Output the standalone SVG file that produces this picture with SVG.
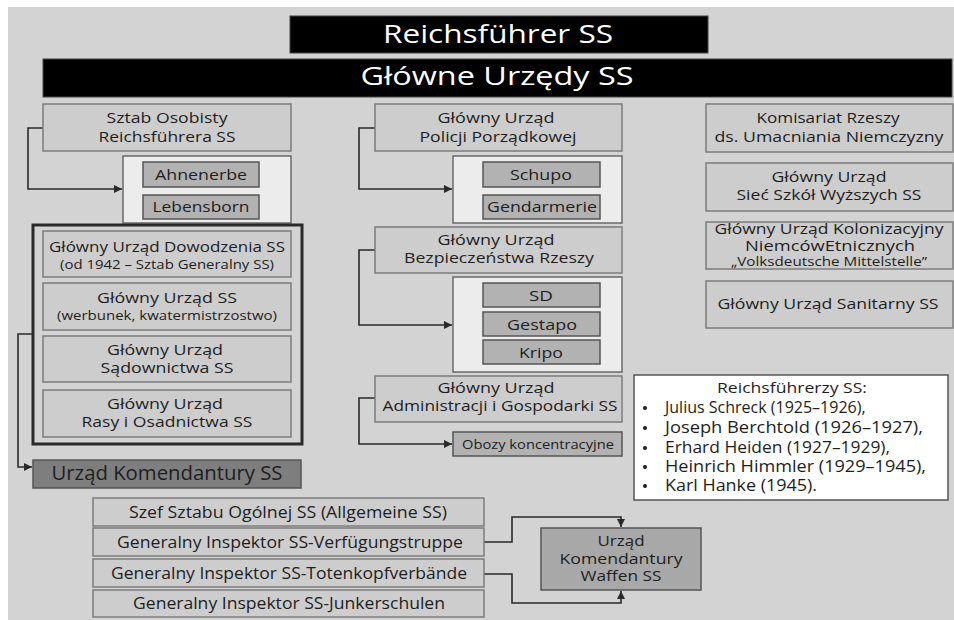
<svg xmlns="http://www.w3.org/2000/svg" width="954" height="620" viewBox="0 0 954 620">
<defs>
<style>
text{font-family:"Open Sans","Noto Sans","Liberation Sans",sans-serif;fill:#1e1e1e;text-anchor:middle}
.t{font-size:15px}
.s{font-size:13px}
.hd{font-size:25px;fill:#fff}
.li{font-size:16px;text-anchor:start}
.box{fill:#cdcdcd;stroke:#7c7c7c;stroke-width:1.5}
.cont{fill:#ececec;stroke:#6a6a6a;stroke-width:1.5}
.sub{fill:#b2b2b2;stroke:#555;stroke-width:1.5}
.dark{fill:#7e7e7e;stroke:#555;stroke-width:1.5}
.mid{fill:#a8a8a8;stroke:#555;stroke-width:1.5}
.blk{fill:#000;stroke:#444;stroke-width:1}
.frame{fill:none;stroke:#2a2a2a;stroke-width:3}
.con{fill:none;stroke:#2a2a2a;stroke-width:1.6}
</style>
<marker id="ar" viewBox="0 0 10 10" refX="10" refY="5" markerWidth="5" markerHeight="5" orient="auto"><path d="M0,0L10,5L0,10z" fill="#2a2a2a"/></marker>
</defs>
<rect x="0" y="0" width="954" height="620" fill="#fff"/>
<rect x="8" y="7" width="946" height="613" fill="#d3d3d3"/>

<g id="reichsfuehrer"><rect class="blk" x="290" y="16" width="418" height="37"/><text class="hd" x="498" y="43" textLength="230" lengthAdjust="spacingAndGlyphs">Reichsführer SS</text></g>
<g id="glowne"><rect class="blk" x="43" y="59" width="909" height="38"/><text class="hd" x="497" y="85" textLength="273" lengthAdjust="spacingAndGlyphs">Główne Urzędy SS</text></g>

<g id="connectors">
<path class="con" d="M43,128H28V189H122" marker-end="url(#ar)"/>
<path class="con" d="M375,128H359V189H452" marker-end="url(#ar)"/>
<path class="con" d="M375,250H359V325H452" marker-end="url(#ar)"/>
<path class="con" d="M375,398H359V444H452" marker-end="url(#ar)"/>
<path class="con" d="M33,334H18V467H32" marker-end="url(#ar)"/>
<path class="con" d="M484,542H512V517H621V527" marker-end="url(#ar)"/>
<path class="con" d="M484,574H512V603H621V591" marker-end="url(#ar)"/>
</g>

<g id="sztab"><rect class="box" x="43" y="104" width="248" height="47"/><text class="t" x="167" y="123" textLength="121" lengthAdjust="spacingAndGlyphs">Sztab Osobisty</text><text class="t" x="167" y="142" textLength="137" lengthAdjust="spacingAndGlyphs">Reichsführera SS</text></g>
<g id="sztab-units"><rect class="cont" x="123" y="156" width="168" height="67"/>
<rect class="sub" x="143" y="162" width="116" height="25"/><text class="t" x="201" y="180" textLength="92" lengthAdjust="spacingAndGlyphs">Ahnenerbe</text>
<rect class="sub" x="143" y="195" width="116" height="24"/><text class="t" x="201" y="212" textLength="97" lengthAdjust="spacingAndGlyphs">Lebensborn</text></g>

<g id="frame-group"><rect class="frame" x="33" y="225" width="269" height="219"/></g>
<g id="dowodzenia"><rect class="box" x="43" y="231" width="248" height="46"/><text class="t" x="167" y="252" textLength="236" lengthAdjust="spacingAndGlyphs">Główny Urząd Dowodzenia SS</text><text class="s" x="167" y="269" textLength="214" lengthAdjust="spacingAndGlyphs">(od 1942 – Sztab Generalny SS)</text></g>
<g id="gu-ss"><rect class="box" x="43" y="283" width="248" height="47"/><text class="t" x="167" y="303" textLength="140" lengthAdjust="spacingAndGlyphs">Główny Urząd SS</text><text class="s" x="167" y="320" textLength="220" lengthAdjust="spacingAndGlyphs">(werbunek, kwatermistrzostwo)</text></g>
<g id="sadownictwa"><rect class="box" x="43" y="336" width="248" height="46"/><text class="t" x="165" y="355" textLength="116" lengthAdjust="spacingAndGlyphs">Główny Urząd</text><text class="t" x="167" y="373" textLength="133" lengthAdjust="spacingAndGlyphs">Sądownictwa SS</text></g>
<g id="rasy"><rect class="box" x="43" y="390" width="248" height="47"/><text class="t" x="165" y="409" textLength="116" lengthAdjust="spacingAndGlyphs">Główny Urząd</text><text class="t" x="167" y="427" textLength="171" lengthAdjust="spacingAndGlyphs">Rasy i Osadnictwa SS</text></g>
<g id="komendantura-ss"><rect class="dark" x="33" y="460" width="268" height="28"/><text x="167" y="480" style="font-size:20px" textLength="231" lengthAdjust="spacingAndGlyphs">Urząd Komendantury SS</text></g>

<g id="orpo"><rect class="box" x="375" y="104" width="247" height="47"/><text class="t" x="496" y="123" textLength="117" lengthAdjust="spacingAndGlyphs">Główny Urząd</text><text class="t" x="498" y="142" textLength="157" lengthAdjust="spacingAndGlyphs">Policji Porządkowej</text></g>
<g id="orpo-units"><rect class="cont" x="453" y="156" width="169" height="67"/>
<rect class="sub" x="483" y="162" width="117" height="25"/><text class="t" x="541" y="180" textLength="62" lengthAdjust="spacingAndGlyphs">Schupo</text>
<rect class="sub" x="483" y="195" width="117" height="24"/><text class="t" x="542" y="212" textLength="110" lengthAdjust="spacingAndGlyphs">Gendarmerie</text></g>
<g id="rsha"><rect class="box" x="375" y="227" width="247" height="46"/><text class="t" x="496" y="245" textLength="117" lengthAdjust="spacingAndGlyphs">Główny Urząd</text><text class="t" x="499" y="263" textLength="190" lengthAdjust="spacingAndGlyphs">Bezpieczeństwa Rzeszy</text></g>
<g id="rsha-units"><rect class="cont" x="453" y="277" width="169" height="95"/>
<rect class="sub" x="483" y="283" width="117" height="24"/><text class="t" x="541" y="301" textLength="24" lengthAdjust="spacingAndGlyphs">SD</text>
<rect class="sub" x="483" y="312" width="117" height="24"/><text class="t" x="542" y="330" textLength="70" lengthAdjust="spacingAndGlyphs">Gestapo</text>
<rect class="sub" x="483" y="340" width="117" height="24"/><text class="t" x="541" y="358" textLength="44" lengthAdjust="spacingAndGlyphs">Kripo</text></g>
<g id="wvha"><rect class="box" x="375" y="376" width="247" height="46"/><text class="t" x="496" y="393" textLength="117" lengthAdjust="spacingAndGlyphs">Główny Urząd</text><text class="t" x="500" y="411" textLength="235" lengthAdjust="spacingAndGlyphs">Administracji i Gospodarki SS</text></g>
<g id="obozy"><rect class="sub" x="453" y="432" width="169" height="24"/><text class="s" x="538" y="449" textLength="152" lengthAdjust="spacingAndGlyphs">Obozy koncentracyjne</text></g>

<g id="rkfdv"><rect class="box" x="706" y="104" width="247" height="48"/><text class="t" x="828" y="123" textLength="143" lengthAdjust="spacingAndGlyphs">Komisariat Rzeszy</text><text class="t" x="829" y="142" textLength="229" lengthAdjust="spacingAndGlyphs">ds. Umacniania Niemczyzny</text></g>
<g id="szkoly"><rect class="box" x="706" y="163" width="247" height="48"/><text class="t" x="829" y="182" textLength="115" lengthAdjust="spacingAndGlyphs">Główny Urząd</text><text class="t" x="829" y="200" textLength="185" lengthAdjust="spacingAndGlyphs">Sieć Szkół Wyższych SS</text></g>
<g id="vomi"><rect class="box" x="706" y="222" width="247" height="47"/><text x="829" y="234" style="font-size:14px" textLength="229" lengthAdjust="spacingAndGlyphs">Główny Urząd Kolonizacyjny</text><text x="830" y="251" style="font-size:14px" textLength="170" lengthAdjust="spacingAndGlyphs">NiemcówEtnicznych</text><text x="829" y="266" style="font-size:12px" textLength="196" lengthAdjust="spacingAndGlyphs">„Volksdeutsche Mittelstelle”</text></g>
<g id="sanitarny"><rect class="box" x="706" y="281" width="247" height="47"/><text class="t" x="828" y="309" textLength="221" lengthAdjust="spacingAndGlyphs">Główny Urząd Sanitarny SS</text></g>

<g id="lista"><rect x="634" y="375" width="314" height="125" fill="#fff" stroke="#555" stroke-width="1.5"/>
<text class="t" x="792" y="393" textLength="150" lengthAdjust="spacingAndGlyphs">Reichsführerzy SS:</text>
<circle cx="645" cy="408" r="2" fill="#1e1e1e"/><text class="li" x="665" y="413">Julius Schreck (1925–1926),</text>
<circle cx="645" cy="428" r="2" fill="#1e1e1e"/><text class="li" x="665" y="433" textLength="258" lengthAdjust="spacingAndGlyphs">Joseph Berchtold (1926–1927),</text>
<circle cx="645" cy="448" r="2" fill="#1e1e1e"/><text class="li" x="665" y="453" textLength="225" lengthAdjust="spacingAndGlyphs">Erhard Heiden (1927–1929),</text>
<circle cx="645" cy="467" r="2" fill="#1e1e1e"/><text class="li" x="665" y="472" textLength="261" lengthAdjust="spacingAndGlyphs">Heinrich Himmler (1929–1945),</text>
<circle cx="645" cy="486" r="2" fill="#1e1e1e"/><text class="li" x="665" y="491" textLength="152" lengthAdjust="spacingAndGlyphs">Karl Hanke (1945).</text>
</g>

<g id="allgemeine"><rect class="box" x="93" y="498" width="391" height="28"/><text x="288" y="518" style="font-size:16px" textLength="318" lengthAdjust="spacingAndGlyphs">Szef Sztabu Ogólnej SS (Allgemeine SS)</text></g>
<g id="vt"><rect class="box" x="93" y="528" width="391" height="28"/><text x="290" y="548" style="font-size:16px" textLength="346" lengthAdjust="spacingAndGlyphs">Generalny Inspektor SS-Verfügungstruppe</text></g>
<g id="tv"><rect class="box" x="93" y="559" width="391" height="28"/><text x="289" y="579" style="font-size:16px" textLength="356" lengthAdjust="spacingAndGlyphs">Generalny Inspektor SS-Totenkopfverbände</text></g>
<g id="junker"><rect class="box" x="93" y="590" width="391" height="27"/><text x="289" y="609" style="font-size:16px" textLength="312" lengthAdjust="spacingAndGlyphs">Generalny Inspektor SS-Junkerschulen</text></g>
<g id="waffen"><rect class="mid" x="541" y="528" width="160" height="62"/><text x="621" y="546" style="font-size:15px" textLength="47" lengthAdjust="spacingAndGlyphs">Urząd</text><text x="621" y="564" style="font-size:15px" textLength="123" lengthAdjust="spacingAndGlyphs">Komendantury</text><text x="621" y="581" style="font-size:15px" textLength="81" lengthAdjust="spacingAndGlyphs">Waffen SS</text></g>
</svg>
